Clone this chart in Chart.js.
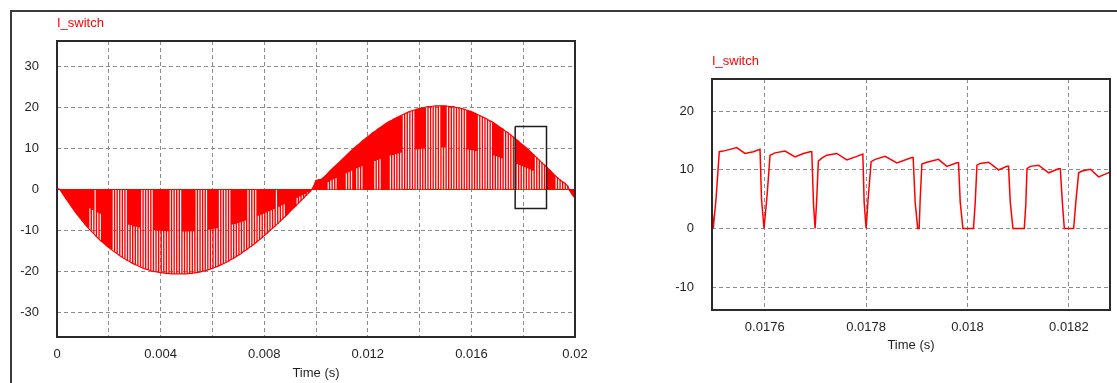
<!DOCTYPE html>
<html>
<head>
<meta charset="utf-8">
<title>I_switch</title>
<script src="https://cdn.jsdelivr.net/npm/chart.js@4.4.1/dist/chart.umd.min.js"></script>
<style>
  html, body { margin: 0; padding: 0; background: #fff; overflow: hidden; }
  #frame { position: absolute; left: 10px; top: 10px; width: 1200px; height: 500px;
           border-top: 2px solid #3a3a3a; border-left: 2px solid #3a3a3a; }
  #left { position: absolute; left: 0; top: 0; }
  #right { position: absolute; left: 600px; top: 0; }
</style>
</head>
<body>
<div id="frame"></div>
<canvas id="left" width="600" height="383"></canvas>
<canvas id="right" width="517" height="383"></canvas>
<script>
// ---- left plot: whole 20 ms cycle, one value per 0.1 ms switching period ----
const switchPeriod = 0.0001;
const leftEnv = [
  0, 0, -0.9, -1.9, -2.8, -3.7, -4.6, -5.5, -6.3, -7.1,
  -7.9, -8.7, -9.4, -10.1, -10.7, -11.4, -12.0, -12.6, -13.1, -13.7,
  -14.2, -14.7, -15.2, -15.6, -16.1, -16.5, -16.9, -17.3, -17.6, -18.0,
  -18.3, -18.6, -18.9, -19.2, -19.4, -19.6, -19.8, -20.0, -20.1, -20.2,
  -20.3, -20.4, -20.5, -20.5, -20.6, -20.6, -20.6, -20.6, -20.6, -20.6,
  -20.6, -20.5, -20.5, -20.4, -20.3, -20.2, -20.0, -19.9, -19.7, -19.5,
  -19.3, -19.0, -18.8, -18.5, -18.2, -17.9, -17.6, -17.2, -16.9, -16.5,
  -16.1, -15.7, -15.2, -14.8, -14.3, -13.9, -13.4, -12.9, -12.4, -11.9,
  -11.3, -10.8, -10.2, -9.6, -9.1, -8.5, -7.9, -7.3, -6.7, -6.1,
  -5.4, -4.8, -4.2, -3.5, -2.9, -2.3, -1.6, -1.0, -0.4, 0.6,
  2.2, 2.3, 2.4, 2.9, 3.5, 4.2, 4.8, 5.4, 6.0, 6.6,
  7.2, 7.8, 8.4, 9.0, 9.6, 10.2, 10.7, 11.2, 11.8, 12.3,
  12.8, 13.3, 13.8, 14.2, 14.7, 15.1, 15.6, 16.0, 16.4, 16.7,
  17.1, 17.4, 17.7, 18.0, 18.3, 18.6, 18.9, 19.1, 19.3, 19.5,
  19.7, 19.8, 19.9, 20.1, 20.1, 20.2, 20.3, 20.3, 20.3, 20.3,
  20.3, 20.2, 20.1, 20.1, 19.9, 19.8, 19.7, 19.5, 19.3, 19.1,
  18.9, 18.6, 18.3, 18.0, 17.7, 17.4, 17.1, 16.7, 16.4, 16.0,
  15.6, 15.1, 14.7, 14.2, 13.8, 13.3, 12.8, 12.3, 11.8, 11.2,
  10.7, 10.2, 9.6, 9.0, 8.4, 7.8, 7.2, 6.6, 6.0, 5.4,
  4.8, 4.2, 3.5, 2.9, 2.4, 1.9, 1.5, 0.9, -0.4, -1.4
];
const leftEndValue = -2.2;
// visible gap in each period: N none, F down to zero, O outer half, I inner half
const leftSwitchRuns = [
  ['N', 12], ['O', 2], ['F', 1], ['O', 2], ['N', 4], ['F', 6], ['O', 5], ['F', 5], ['O', 6],
  ['F', 5], ['O', 5], ['F', 5], ['O', 4], ['F', 5], ['O', 6], ['F', 4], ['O', 7], ['F', 1],
  ['O', 3], ['N', 4], ['O', 5], ['N', 2],
  ['N', 5], ['I', 4], ['N', 3], ['I', 3], ['N', 1], ['I', 3], ['N', 4], ['I', 3], ['N', 3],
  ['I', 5], ['F', 5], ['I', 4], ['F', 6], ['I', 2], ['F', 8], ['I', 4], ['F', 6], ['I', 4],
  ['F', 5], ['I', 7], ['F', 5], ['N', 3], ['F', 6], ['N', 2]
];
const leftTimeTicks = [0, 0.002, 0.004, 0.006, 0.008, 0.01, 0.012, 0.014, 0.016, 0.018, 0.02];
const leftTimeLabels = ['0', '', '0.004', '', '0.008', '', '0.012', '', '0.016', '', '0.02'];
const leftCurrentTicks = [-30, -20, -10, 0, 10, 20, 30];
const zoomBoxTimes = [0.01769, 0.0189, 0.0189, 0.01769, 0.01769];
const zoomBoxCurrents = [15.3, 15.3, -4.7, -4.7, 15.3];

// ---- right plot: zoom around 18 ms ----
const rightTimes = [
  0.0174960, 0.0174985, 0.0175039, 0.0175104, 0.0175183, 0.0175315, 0.0175447, 0.0175611, 0.0175775, 0.0175907,
  0.0175937, 0.0175986, 0.0176045, 0.0176105, 0.0176203, 0.0176401, 0.0176598, 0.0176762, 0.0176894, 0.0176928,
  0.0176963, 0.0176993, 0.0177023, 0.0177058, 0.0177125, 0.0177224, 0.0177422, 0.0177619, 0.0177816, 0.0177935,
  0.0177961, 0.0178000, 0.0178039, 0.0178099, 0.0178178, 0.0178375, 0.0178606, 0.0178902, 0.0178928, 0.0178967,
  0.0179017, 0.0179046, 0.0179066, 0.0179100, 0.0179198, 0.0179427, 0.0179593, 0.0179791, 0.0179822, 0.0179856,
  0.0179909, 0.0180118, 0.0180152, 0.0180186, 0.0180251, 0.0180415, 0.0180612, 0.0180778, 0.0180809, 0.0180843,
  0.0180896, 0.0181119, 0.0181149, 0.0181173, 0.0181238, 0.0181402, 0.0181599, 0.0181797, 0.0181830, 0.0181870,
  0.0181909, 0.0182093, 0.0182136, 0.0182192, 0.0182259, 0.0182423, 0.0182586, 0.0182752, 0.0182811
];
const rightCurrents = [
  3.5, 0, 5, 13.1, 13.2, 13.5, 13.8, 12.8, 13.1, 13.5,
  5, 0, 5.5, 12.5, 12.9, 13.2, 12.2, 12.8, 13.1, 13.1,
  4, 0, 4.5, 11.5, 12.0, 12.5, 12.8, 11.7, 12.3, 12.7,
  4.5, 0, 5, 11.4, 11.8, 12.3, 11.2, 12.1, 12.1, 4.5,
  0, 0, 5, 11.0, 11.3, 11.8, 10.6, 11.2, 11.2, 4.5,
  0, 0, 4.5, 10.8, 11.1, 11.3, 10.0, 10.6, 10.6, 4.5,
  0, 0, 4, 10.2, 10.6, 10.8, 9.5, 10.2, 10.2, 4.5,
  0, 0, 4.5, 9.5, 9.8, 10.1, 8.8, 9.4, 9.6
];
const rightTimeTicks = [0.0176, 0.0178, 0.018, 0.0182];
const rightTimeLabels = ['0.0176', '0.0178', '0.018', '0.0182'];
const rightCurrentTicks = [-10, 0, 10, 20];

Chart.defaults.font.family = "'Liberation Sans', Arial, sans-serif";
Chart.defaults.font.size = 13;
const tickColor = '#1f1f1f';
const gridColor = '#8c8c8c';
const traceColor = '#ff0000';

// build the switched waveform of the left plot
const codes = leftSwitchRuns.flatMap(([c, n]) => Array(n).fill(c));
const gapStart = 0.5, gapEnd = 0.95;
const redPts = [];
const whitePts = [{ x: 0, y: 0 }];
const envPts = [];
leftEnv.forEach((v, k) => {
  const t0 = k * switchPeriod;
  const ta = t0 + gapStart * switchPeriod;
  const tb = t0 + gapEnd * switchPeriod;
  const c = codes[k];
  redPts.push({ x: t0, y: v });
  envPts.push({ x: t0, y: v });
  if (c === 'F' || c === 'O') {
    const d = c === 'F' ? 0 : v / 2;
    redPts.push({ x: ta, y: v }, { x: ta, y: d }, { x: tb, y: d }, { x: tb, y: v });
  } else if (c === 'I') {
    whitePts.push({ x: ta, y: 0 }, { x: ta, y: v / 2 }, { x: tb, y: v / 2 }, { x: tb, y: 0 });
  }
});
redPts.push({ x: 0.02, y: leftEndValue });
envPts.push({ x: 0.02, y: leftEndValue });
whitePts.push({ x: 0.02, y: 0 });

const boxPts = zoomBoxTimes.map((t, i) => ({ x: t, y: zoomBoxCurrents[i] }));
const rightPts = rightTimes.map((t, i) => ({ x: t, y: rightCurrents[i] }));

const plotFrame = {
  id: 'plotFrame',
  afterDraw(chart) {
    const { ctx, chartArea: a } = chart;
    ctx.save();
    ctx.strokeStyle = '#2b2b2b';
    ctx.lineWidth = 2;
    ctx.strokeRect(a.left, a.top, a.right - a.left, a.bottom - a.top);
    ctx.restore();
  }
};

function makeOptions(o) {
  const isZero = ctx => ctx.tick && ctx.tick.value === 0 && o.redZero;
  return {
    responsive: false,
    animation: false,
    events: [],
    layout: { padding: { left: 0, right: o.rightPad, top: 0, bottom: 0 } },
    plugins: {
      legend: { display: false },
      tooltip: { enabled: false },
      title: {
        display: true, text: 'I_switch', align: 'start', fullSize: false,
        color: traceColor, font: { size: 13, weight: 'normal' },
        padding: { top: o.titleTop, bottom: o.titleBottom }
      }
    },
    scales: {
      x: {
        type: 'linear', min: o.xMin, max: o.xMax,
        afterBuildTicks: s => { s.ticks = o.xTicks.map(v => ({ value: v })); },
        afterFit: s => { s.height = o.xHeight; },
        ticks: { autoSkip: false, maxRotation: 0, padding: o.xPad, color: tickColor,
                 callback: (v, i) => o.xLabels[i] },
        grid: { color: gridColor, drawTicks: false },
        border: { display: false, dash: [4, 3] },
        title: { display: true, text: 'Time (s)', color: tickColor,
                 font: { size: 13 }, padding: { top: 0, bottom: o.xTitlePad } }
      },
      y: {
        type: 'linear', min: o.yMin, max: o.yMax,
        afterBuildTicks: s => { s.ticks = o.yTicks.map(v => ({ value: v })); },
        afterFit: s => { s.width = o.yWidth; },
        ticks: { padding: 18, color: tickColor, callback: v => String(v) },
        grid: { color: ctx => isZero(ctx) ? traceColor : gridColor, drawTicks: false },
        border: { display: false, dash: ctx => isZero(ctx) ? [] : [4, 3] }
      }
    }
  };
}

new Chart(document.getElementById('left'), {
  type: 'line',
  data: {
    datasets: [
      { label: 'zoom', data: boxPts, borderColor: '#1e1e1e', borderWidth: 1.5,
        pointRadius: 0, fill: false, order: 0 },
      { label: 'envelope', data: envPts, borderColor: traceColor, borderWidth: 1.2,
        pointRadius: 0, fill: false, order: 1 },
      { label: 'gaps', data: whitePts, borderColor: 'rgba(0,0,0,0)', borderWidth: 0,
        backgroundColor: '#ffffff', fill: 'origin', pointRadius: 0, order: 2 },
      { label: 'I_switch', data: redPts, borderColor: 'rgba(0,0,0,0)', borderWidth: 0,
        backgroundColor: traceColor, fill: 'origin', pointRadius: 0, order: 3 }
    ]
  },
  options: makeOptions({
    rightPad: 25, titleTop: 15.5, titleBottom: 9.9,
    xMin: 0, xMax: 0.02, xTicks: leftTimeTicks, xLabels: leftTimeLabels,
    xHeight: 46, xPad: 10, xTitlePad: 2,
    yMin: -36, yMax: 36.1, yTicks: leftCurrentTicks, yWidth: 57, redZero: true
  }),
  plugins: [plotFrame]
});

new Chart(document.getElementById('right'), {
  type: 'line',
  data: {
    datasets: [
      { label: 'I_switch', data: rightPts, borderColor: traceColor, borderWidth: 1.5,
        pointRadius: 0, fill: false, tension: 0 }
    ]
  },
  options: makeOptions({
    rightPad: 7, titleTop: 53.9, titleBottom: 9.5,
    xMin: 0.017496, xMax: 0.018281, xTicks: rightTimeTicks, xLabels: rightTimeLabels,
    xHeight: 73, xPad: 9.5, xTitlePad: 29.5,
    yMin: -13.9, yMax: 25.5, yTicks: rightCurrentTicks, yWidth: 112, redZero: false
  }),
  plugins: [plotFrame]
});
</script>
</body>
</html>
